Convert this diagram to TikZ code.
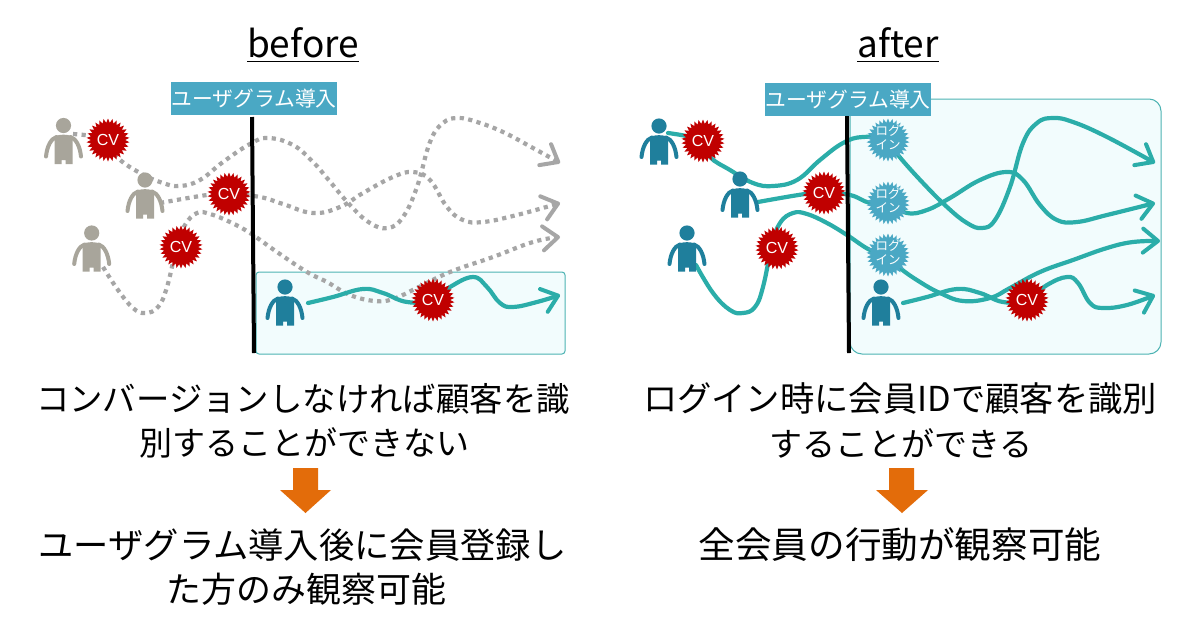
\documentclass[tikz,border=0pt]{standalone}
\usepackage{fontspec}
\setmainfont{Noto Sans CJK JP}
\newfontfamily\cvfont{Liberation Sans}
\usetikzlibrary{shapes.geometric,arrows.meta}
\definecolor{grayp}{HTML}{A8A59B}
\definecolor{bluep}{HTML}{1F7F9C}
\definecolor{teall}{HTML}{2BADA9}
\definecolor{labelc}{HTML}{4AA8C4}
\definecolor{boxf}{HTML}{F2FCFD}
\definecolor{boxd}{HTML}{4DB3B3}
\definecolor{cvred}{HTML}{C00000}
\definecolor{orangea}{HTML}{E36C0A}
\definecolor{dotg}{HTML}{A6A6A6}
\tikzset{
  pics/person/.style={code={
    \fill[#1] (0,0) circle (7.6);
    \fill[#1] (-9,11) .. controls (-4,8.5) and (4,8.5) .. (9,11)
      -- (9,38.5) -- (2,38.5) -- (2,34.5) -- (-2,34.5) -- (-2,38.5) -- (-9,38.5) -- cycle;
    \draw[#1,line width=4,line cap=round] (-7,11.5) .. controls (-12.5,13) and (-16.5,21) .. (-17.5,31);
    \draw[#1,line width=4,line cap=round] (7,11.5) .. controls (12.5,13) and (16.5,21) .. (17.5,31);
  }},
  burst/.style={star,star points=30,star point ratio=1.25,minimum size=43,inner sep=0,fill=#1,draw=none,text=white},
  cvnode/.style={burst=cvred,font=\cvfont\fontsize{16}{16}\selectfont},
  loginnode/.style={burst=labelc,font=\fontsize{12.5}{14}\selectfont},
  solidroute/.style={draw=teall,line width=4.2,line cap=round,line join=round},
  dotroute/.style={draw=dotg,line width=4.2,dash pattern=on 4.2 off 4.4},
  tip/.style={-{Straight Barb[length=15,width=24,line width=4,round]}},
  labelbox/.style={fill=labelc,text=white,minimum width=166,minimum height=33,inner sep=0,font=\fontsize{20.8}{20.8}\selectfont},
  zone/.style={fill=boxf,draw=boxd,line width=1},
  wall/.style={draw=black,line width=4},
  title/.style={font=\fontsize{37}{37}\selectfont,text=black,inner sep=0},
  bodyline/.style={font=\fontsize{#1}{#1}\selectfont,text=black,inner sep=0},
}
\newcommand{\loginlabel}{\smash{\makebox[0pt]{\raisebox{-9pt}{\shortstack{ログ\\[0pt]イン}}}}}
\newcommand{\ultext}[1]{\underline{\smash{#1}\rule[-2.5pt]{0pt}{2.5pt}}}
\begin{document}
\begin{tikzpicture}[x=1pt,y=-1pt]
\useasboundingbox (0,0) rectangle (1200,630);
\fill[white] (0,0) rectangle (1200,630);

% named places
\coordinate (bs1) at (73,134);
\coordinate (bs2) at (160,203);
\coordinate (bs3) at (103,267);
\coordinate (bs4) at (308,303);
\coordinate (be1) at (560,163);
\coordinate (be2) at (560,203);
\coordinate (be3) at (560,237);
\coordinate (be4) at (560,295);
\coordinate (as1) at (668,133);
\coordinate (as2) at (758,202);
\coordinate (as3) at (696,265);
\coordinate (as4) at (903,303);
\coordinate (ae1) at (1155,163);
\coordinate (ae2) at (1155,203);
\coordinate (ae3) at (1160,241);
\coordinate (ae4) at (1155,295);

% zones
\draw[zone,rounded corners=3] (256,272) rectangle (565,354);
\draw[zone,rounded corners=12] (850,99) rectangle (1161,354);

% bursts placed first as coordinates for routes
\coordinate (c1) at (108,140);
\coordinate (c2) at (229,194);
\coordinate (c3) at (181,247);
\coordinate (c4) at (433,300);
\coordinate (c5) at (703,141);
\coordinate (c6) at (824,193);
\coordinate (c7) at (777,248);
\coordinate (c8) at (1027,300);
\coordinate (l1) at (888,140);
\coordinate (l2) at (888,203);
\coordinate (l3) at (888,255);
\coordinate (v3) at (177,246);
\coordinate (v7) at (772,245);

% before: dotted routes
\draw[dotroute,tip] plot[smooth,tension=.7] coordinates {(bs1) (c1) (117,157) (140,173) (163,183) (180,186) (200,180) (223,162) (250,144) (268,138) (293,145) (313,162) (327,178) (350,205) (370,223) (388,228) (403,217) (417,187) (430,142) (443,123) (458,118) (477,122) (503,132) (533,148) (be1)};
\draw[dotroute,tip] plot[smooth,tension=.7] coordinates {(bs2) (207,195) (c2) (260,197) (283,204) (313,213) (340,207) (363,193) (393,177) (413,172) (430,180) (447,207) (463,220) (483,222) (517,215) (be2)};
\draw[dotroute,tip] plot[smooth,tension=.7] coordinates {(bs3) (118,290) (133,308) (145,313) (158,307) (167,287) (v3) (185,225) (197,213) (210,214) (230,222) (250,233) (277,252) (307,272) (327,282) (350,295) (375,301) (393,299) (417,288) (450,272) (493,257) (533,242) (be3)};

% before: solid route
\path[solidroute,tip] plot[smooth,tension=.7] coordinates {(bs4) (333,297) (363,289) (383,293) (407,302) (c4) (450,287) (473,277) (487,287) (500,303) (513,307) (537,302) (be4)};

% after: solid routes
\path[solidroute,tip] plot[smooth,tension=.7] coordinates {(as1) (c5) (710,157) (730,170) (753,183) (773,186) (797,180) (820,160) (843,143) (863,137) (l1) (898,155) (923,183) (947,207) (967,223) (982,228) (995,220) (1010,187) (1023,143) (1037,123) (1053,118) (1073,122) (1107,137) (ae1)};
\path[solidroute,tip] plot[smooth,tension=.7] coordinates {(as2) (805,194) (c6) (850,195) (870,203) (l2) (907,213) (927,210) (950,198) (980,180) (1007,172) (1023,180) (1040,205) (1057,220) (1077,222) (1107,215) (ae2)};
\path[solidroute,tip] plot[smooth,tension=.7] coordinates {(as3) (713,293) (730,310) (743,313) (755,307) (763,287) (v7) (780,223) (793,213) (807,214) (827,223) (847,235) (870,250) (l3) (900,268) (920,282) (940,293) (963,301) (990,298) (1010,288) (1040,272) (1073,260) (1107,248) (1133,242) (ae3)};
\path[solidroute,tip] plot[smooth,tension=.7] coordinates {(as4) (927,297) (957,289) (980,293) (1003,302) (c8) (1047,285) (1067,277) (1078,283) (1090,303) (1103,308) (1127,305) (ae4)};

% walls
\coordinate (w1t) at (252,117); \coordinate (w1b) at (254,353);
\coordinate (w2t) at (847,116); \coordinate (w2b) at (849,353);
\draw[wall] (w1t) -- (w1b);
\draw[wall] (w2t) -- (w2b);

% labels
\node[labelbox] (lab1) at (254,98.5) {ユーザグラム導入};
\node[labelbox] (lab2) at (848,99.5) {ユーザグラム導入};

% bursts
\node[cvnode] (cv1) at (c1) {CV};
\node[cvnode] (cv2) at (c2) {CV};
\node[cvnode] (cv3) at (c3) {CV};
\node[cvnode] (cv4) at (c4) {CV};
\node[cvnode] (cv5) at (c5) {CV};
\node[cvnode] (cv6) at (c6) {CV};
\node[cvnode] (cv7) at (c7) {CV};
\node[cvnode] (cv8) at (c8) {CV};
\node[loginnode] (log1) at (l1) {\loginlabel};
\node[loginnode] (log2) at (l2) {\loginlabel};
\node[loginnode] (log3) at (l3) {\loginlabel};

% people
\pic at (63.5,125.5) {person=grayp};
\pic at (145,180) {person=grayp};
\pic at (91.7,233) {person=grayp};
\pic at (285,287) {person=bluep};
\pic at (659,126) {person=bluep};
\pic at (740,179) {person=bluep};
\pic at (687,233) {person=bluep};
\pic at (881,287) {person=bluep};

% titles
\node[title,anchor=base] (t1) at (303,57) {\ultext{before}};
\node[title,anchor=base] (t2) at (898,57) {\ultext{after}};

% text
\node[bodyline=33.4] (b1a) at (303,399) {コンバージョンしなければ顧客を識};
\node[bodyline=33] (b1b) at (304,443) {別することができない};
\node[bodyline=35.3] (b2a) at (302.5,545) {ユーザグラム導入後に会員登録し};
\node[bodyline=34.9] (b2b) at (306.5,589) {た方のみ観察可能};
\node[bodyline=34.3] (b3a) at (900,399) {ログイン時に会員IDで顧客を識別};
\node[bodyline=33] (b3b) at (901,443) {することができる};
\node[bodyline=36.6] (b4) at (900,545) {全会員の行動が観察可能};

% orange arrows
\fill[orangea] (293,468) -- (318,468) -- (318,490) -- (331,490) -- (305.5,513) -- (280,490) -- (293,490) -- cycle;
\fill[orangea] (889,468) -- (914,468) -- (914,490) -- (928,490) -- (902,513) -- (876,490) -- (889,490) -- cycle;
\end{tikzpicture}
\end{document}
